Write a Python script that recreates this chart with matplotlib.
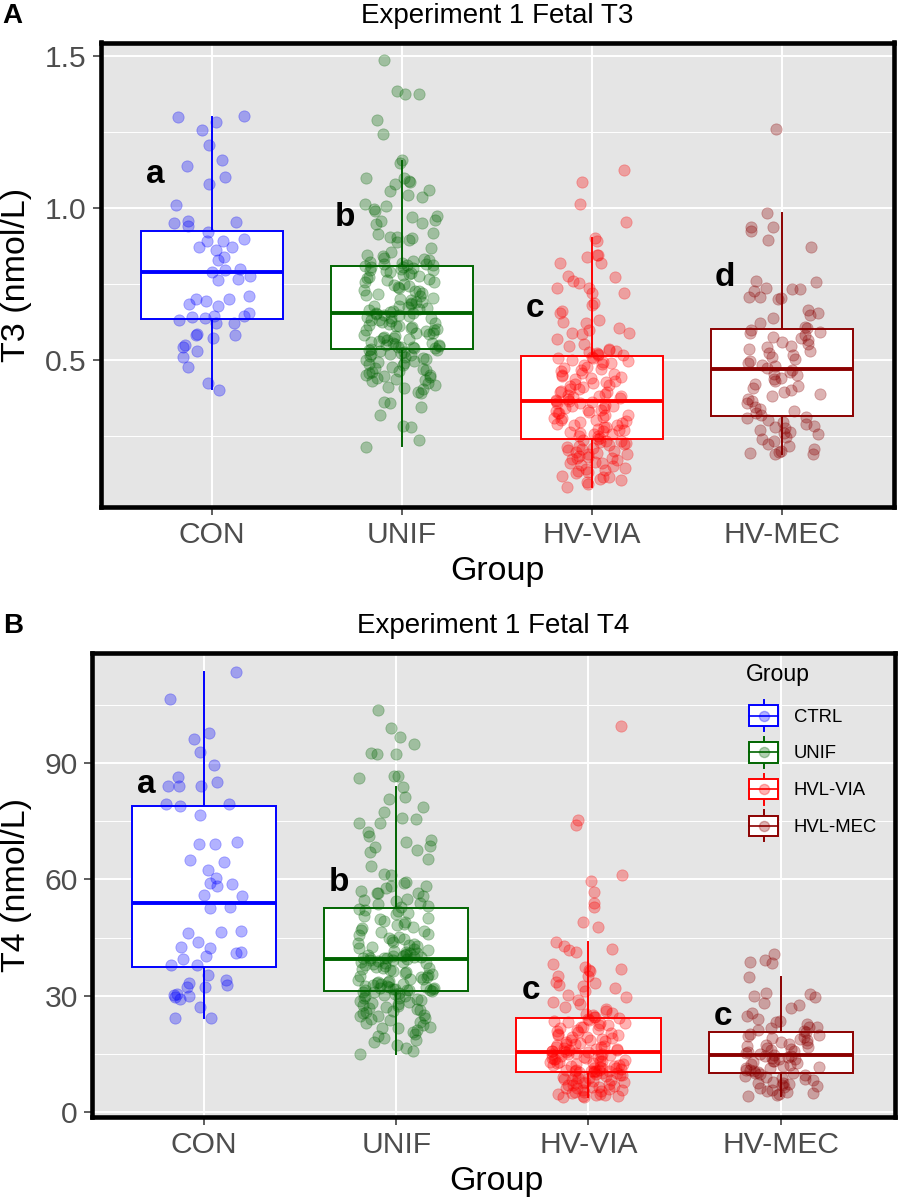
import numpy as np
import matplotlib
matplotlib.use("Agg")
import matplotlib.pyplot as plt
from matplotlib.ticker import FixedLocator
from matplotlib.legend_handler import HandlerBase
from matplotlib.patches import Rectangle, Patch
from matplotlib.lines import Line2D

plt.rcParams['font.family'] = ['Liberation Sans', 'DejaVu Sans']

groups = ['CON', 'UNIF', 'HV-VIA', 'HV-MEC']
legend_labels = ['CTRL', 'UNIF', 'HVL-VIA', 'HVL-MEC']
colors = ['#0000FF', '#006400', '#FF0000', '#8B0000']

# ---- Experiment 1 fetal T3 (nmol/L) ----
t3_con = [1.303, 1.30, 1.283, 1.257, 1.207, 1.158, 1.138, 1.102, 1.079, 1.01, 0.957, 0.954,
          0.951, 0.94, 0.92, 0.898, 0.89, 0.89, 0.872, 0.872, 0.86, 0.84, 0.83, 0.80, 0.796,
          0.79, 0.776, 0.767, 0.763, 0.711, 0.70, 0.70, 0.694, 0.684, 0.678, 0.655, 0.645,
          0.645, 0.641, 0.638, 0.632, 0.62, 0.62, 0.585, 0.582, 0.582, 0.572, 0.55, 0.543,
          0.53, 0.51, 0.477, 0.424, 0.40]
t3_unif = [1.485, 1.385, 1.375, 1.375, 1.29, 1.243, 1.158, 1.148, 1.10, 1.10, 1.09, 1.086,
           1.08, 1.06, 1.056, 1.043, 1.036, 1.013, 1.007, 0.997, 0.99, 0.974, 0.97, 0.96,
           0.957, 0.95, 0.947, 0.918, 0.915, 0.905, 0.905, 0.90, 0.895, 0.888, 0.868, 0.855,
           0.845, 0.842, 0.835, 0.831, 0.828, 0.824, 0.822, 0.819, 0.817, 0.815, 0.813, 0.811,
           0.809, 0.807, 0.806, 0.802, 0.80, 0.797, 0.795, 0.794, 0.789, 0.785, 0.784, 0.78,
           0.776, 0.772, 0.771, 0.765, 0.762, 0.758, 0.757, 0.751, 0.748, 0.744, 0.739, 0.737,
           0.731, 0.727, 0.726, 0.72, 0.716, 0.712, 0.709, 0.703, 0.701, 0.698, 0.692, 0.69,
           0.686, 0.683, 0.679, 0.676, 0.673, 0.671, 0.667, 0.664, 0.662, 0.659, 0.656,
           0.654, 0.651, 0.649, 0.648, 0.644, 0.642, 0.639, 0.637, 0.633, 0.63, 0.628, 0.626,
           0.621, 0.619, 0.616, 0.613, 0.611, 0.608, 0.604, 0.602, 0.599, 0.597, 0.594, 0.59,
           0.588, 0.586, 0.581, 0.579, 0.576, 0.573, 0.571, 0.568, 0.566, 0.563, 0.559, 0.557,
           0.555, 0.552, 0.55, 0.548, 0.546, 0.544, 0.542, 0.541, 0.539, 0.538, 0.537,
           0.534, 0.532, 0.529, 0.527, 0.524, 0.521, 0.519, 0.516, 0.512, 0.509, 0.505, 0.502,
           0.499, 0.496, 0.492, 0.489, 0.486, 0.482, 0.478, 0.475, 0.471, 0.468, 0.464, 0.46,
           0.456, 0.452, 0.45, 0.446, 0.444, 0.44, 0.437, 0.434, 0.43, 0.424, 0.418, 0.412,
           0.408, 0.405, 0.395, 0.39, 0.362, 0.358, 0.345, 0.32, 0.283, 0.28, 0.237, 0.214]
t3_via = [1.125, 1.086, 1.013, 0.954, 0.90, 0.89, 0.845, 0.845, 0.84, 0.82, 0.819, 0.776,
          0.773, 0.76, 0.753, 0.737, 0.737, 0.72, 0.72, 0.688, 0.68, 0.66, 0.655, 0.63, 0.625,
          0.62, 0.605, 0.60, 0.59, 0.59, 0.585, 0.57, 0.553, 0.545, 0.536, 0.533, 0.53, 0.526,
          0.522, 0.519, 0.517, 0.515,
          0.511, 0.508, 0.505, 0.501, 0.497, 0.494, 0.49, 0.487, 0.482, 0.478, 0.474, 0.47,
          0.466, 0.463, 0.458, 0.455, 0.451, 0.447, 0.443, 0.44, 0.436, 0.432, 0.428, 0.424,
          0.421, 0.417, 0.414, 0.41, 0.406, 0.403, 0.399, 0.396, 0.393, 0.389, 0.386, 0.383,
          0.38, 0.377, 0.374, 0.371, 0.369, 0.366,
          0.364, 0.363, 0.358, 0.357, 0.352, 0.35, 0.348, 0.343, 0.342, 0.337, 0.334, 0.333,
          0.328, 0.325, 0.324, 0.319, 0.318, 0.313, 0.31, 0.309, 0.304, 0.301, 0.30, 0.295,
          0.294, 0.289, 0.286, 0.285, 0.28, 0.279, 0.274, 0.271, 0.27, 0.265, 0.264, 0.259,
          0.256, 0.255, 0.25, 0.249, 0.244, 0.241,
          0.238, 0.235, 0.233, 0.229, 0.226, 0.224, 0.219, 0.216, 0.213, 0.21, 0.206, 0.203,
          0.20, 0.197, 0.194, 0.19, 0.19, 0.185, 0.182, 0.178, 0.178, 0.175, 0.17, 0.165,
          0.162, 0.16, 0.155, 0.15, 0.145, 0.14, 0.138, 0.135, 0.13, 0.128, 0.12, 0.115,
          0.115, 0.11, 0.105, 0.10, 0.092, 0.082]
t3_mec = [1.26, 0.983, 0.937, 0.937, 0.925, 0.895, 0.872, 0.76, 0.757, 0.737, 0.734, 0.734,
          0.727, 0.707, 0.707, 0.704, 0.70, 0.664, 0.655, 0.648, 0.638, 0.62, 0.61, 0.605,
          0.598, 0.592, 0.588, 0.583, 0.575, 0.571, 0.566, 0.558, 0.553, 0.547, 0.541, 0.536,
          0.529, 0.522, 0.517, 0.51, 0.503, 0.498, 0.491, 0.485, 0.479, 0.474,
          0.467, 0.46, 0.455, 0.449, 0.441, 0.436, 0.43, 0.421, 0.415, 0.409, 0.40, 0.393,
          0.388, 0.38, 0.372, 0.365, 0.358, 0.345, 0.339, 0.331, 0.325, 0.319,
          0.313, 0.308, 0.302, 0.295, 0.288, 0.283, 0.28, 0.275, 0.268, 0.262, 0.26, 0.255,
          0.247, 0.24, 0.232, 0.225, 0.218, 0.207, 0.20, 0.197, 0.194, 0.19, 0.19]
# box statistics (whisker low, q1, median, q3, whisker high)
t3_lo = [0.405, 0.217, 0.082, 0.19]
t3_q1 = [0.635, 0.536, 0.24, 0.316]
t3_med = [0.79, 0.655, 0.365, 0.47]
t3_q3 = [0.924, 0.81, 0.513, 0.602]
t3_hi = [1.30, 1.155, 0.90, 0.983]
t3_letters = ['a', 'b', 'c', 'd']
t3_letter_y = [1.11, 0.97, 0.67, 0.77]

# ---- Experiment 1 fetal T4 (nmol/L) ----
t4_con = [113.7, 106.6, 97.8, 96.4, 93.0, 89.6, 86.4, 85.1, 84.2, 84.2, 84.1, 79.5, 79.5,
          79.1, 76.7, 69.8, 69.2, 69.2, 64.9, 64.6, 62.5, 60.3, 59.0, 58.9, 58.4, 56.0, 55.6,
          52.8, 52.6, 46.8, 46.3, 46.1, 43.8, 42.6, 42.4, 41.2, 41.1, 40.3, 39.4, 37.9, 37.9,
          35.3, 33.9, 33.3, 32.7, 32.1, 32.1, 30.3, 30.2, 30.0, 29.6, 29.1, 27.1, 24.3, 24.1]
t4_unif = [103.8, 99.0, 96.8, 95.0, 92.6, 92.5, 92.5, 86.7, 86.7, 86.1, 83.8, 81.2, 80.7,
           78.6, 77.3, 75.9, 75.7, 74.7, 74.7, 72.2, 71.1, 70.2, 69.7, 68.7, 68.3, 67.5, 67.0,
           65.3, 63.5, 61.4, 61.2, 59.4, 59.0, 58.3, 58.3, 57.7, 57.0, 56.4, 56.4, 56.4, 55.7,
           55.0, 54.7, 54.5, 54.0, 53.6, 53.2, 53.0,
           52.4, 52.0, 51.8, 51.3, 51.0, 50.6, 50.1, 49.8, 49.3, 49.0, 48.6, 48.2, 47.8, 47.5,
           47.0, 46.8, 46.3, 46.0, 45.7, 45.2, 44.9, 44.6, 44.3, 43.9, 43.6, 43.4, 43.0, 42.8,
           42.5, 42.2, 42.0, 41.8, 41.5, 41.3, 41.1, 40.9, 40.8, 40.6, 40.4, 40.3, 40.2, 40.0,
           39.9, 39.8, 39.7, 39.6, 39.6,
           39.4, 39.3, 39.1, 39.0, 38.8, 38.6, 38.5, 38.3, 38.1, 37.9, 37.7, 37.5, 37.2, 37.0,
           36.8, 36.5, 36.3, 36.1, 35.8, 35.6, 35.4, 35.1, 34.9, 34.7, 34.4, 34.2, 34.0, 33.8,
           33.6, 33.4, 33.2, 33.0, 32.9, 32.7, 32.6, 32.4, 32.3, 32.2, 32.0, 31.9, 31.8, 31.7,
           31.6, 31.5, 31.5, 31.4, 31.4,
           31.2, 31.0, 30.8, 30.6, 30.4, 30.2, 30.0, 29.8, 29.5, 29.3, 29.0, 28.8, 28.5, 28.3,
           28.0, 27.8, 27.6, 27.3, 27.0, 26.7, 26.5, 26.3, 26.0, 25.7, 25.4, 25.1, 24.7, 24.7,
           24.3, 24.0, 23.7, 23.3, 22.8, 22.4, 22.0, 21.5, 21.5, 21.0, 20.5, 20.0, 19.5, 19.0,
           18.5, 17.9, 17.2, 16.5, 15.6, 14.8]
t4_via = [99.7, 75.3, 74.0, 61.2, 59.7, 56.8, 53.8, 52.8, 49.1, 47.6, 43.8, 42.9, 42.0, 41.8,
          41.3, 38.2, 37.3, 36.8, 36.6, 36.4, 35.1, 35.1, 33.6, 33.3, 32.7, 32.6, 31.9, 31.3,
          30.1, 29.6, 28.9, 28.3, 27.8, 27.1, 26.6, 26.1, 25.6, 25.2, 24.9, 24.5, 24.4, 24.2,
          23.9, 23.7, 23.5, 23.2, 23.0, 22.8, 22.5, 22.3, 22.0, 21.8, 21.6, 21.3, 21.1, 20.8,
          20.6, 20.4, 20.1, 19.9, 19.7, 19.4, 19.2, 19.0, 18.8, 18.6, 18.4, 18.2, 18.0, 17.8,
          17.6, 17.4, 17.2, 17.0, 16.8, 16.7, 16.5, 16.3, 16.2, 16.0, 15.9, 15.8, 15.7, 15.6,
          15.4, 15.3, 15.2, 15.0, 14.9, 14.8, 14.6, 14.5, 14.3, 14.2, 14.1, 13.9, 13.8, 13.6,
          13.5, 13.4, 13.2, 13.1, 12.9, 12.8, 12.7, 12.5, 12.4, 12.2, 12.1, 12.0, 11.8, 11.7,
          11.6, 11.4, 11.3, 11.2, 11.0, 10.9, 10.8, 10.7, 10.6, 10.5, 10.5, 10.4, 10.4, 10.3,
          10.2, 10.0, 9.9, 9.7, 9.6, 9.4, 9.3, 9.1, 9.0, 8.8, 8.7, 8.5, 8.3, 8.2, 8.0, 7.8,
          7.7, 7.5, 7.3, 7.2, 7.0, 6.8, 6.7, 6.5, 6.3, 6.2, 6.0, 5.8, 5.7, 5.5, 5.3, 5.2, 5.0,
          4.8, 4.7, 4.5, 4.4, 4.2, 4.1, 4.0, 3.9, 3.7]
t4_mec = [40.7, 39.2, 38.8, 38.5, 34.9, 30.6, 30.3, 30.0, 29.7, 28.0, 27.6, 26.7, 25.5, 24.6,
          23.9, 23.5, 23.2, 22.6, 22.0, 21.8, 21.5, 21.1, 20.9,
          20.5, 20.2, 19.9, 19.6, 19.3, 19.0, 18.7, 18.4, 18.1, 17.8, 17.6, 17.3, 17.0, 16.7,
          16.5, 16.2, 15.9, 15.6, 15.4, 15.1, 14.9, 14.7,
          14.5, 14.3, 14.1, 13.9, 13.7, 13.5, 13.2, 13.0, 12.8, 12.5, 12.3, 12.1, 11.9, 11.6,
          11.4, 11.2, 10.9, 10.7, 10.5, 10.3, 10.1, 10.0,
          9.8, 9.5, 9.2, 9.0, 8.7, 8.4, 8.1, 7.8, 7.5, 7.5, 7.2, 6.9, 6.6, 6.3, 6.0, 5.7, 5.4,
          5.1, 4.8, 4.5, 4.3, 4.1]
t4_lo = [24.1, 14.8, 3.7, 4.1]
t4_q1 = [37.3, 31.3, 10.3, 9.9]
t4_med = [54.0, 39.5, 15.5, 14.6]
t4_q3 = [79.1, 52.7, 24.1, 20.7]
t4_hi = [113.7, 83.8, 43.8, 34.9]
t4_letters = ['a', 'b', 'c', 'c']
t4_letter_y = [84.4, 59.3, 31.4, 24.7]

W, H = 898, 1201


def fx(px):
    return px / W


def fy(py):
    return 1 - py / H


def jitter(n, k):
    # deterministic hash-style horizontal spread, +/- 0.2 like geom_jitter(width = 0.2)
    i = np.arange(n) + 1.0
    u = np.mod(np.abs(np.sin(i * 12.9898 + k * 78.233)) * 43758.5453, 1.0)
    return (2 * u - 1) * 0.2


def panel(ax, series, lo, q1, med, q3, hi, letters, letter_y, yticks, yminor, ylim, xlim):
    ax.set_facecolor('#E5E5E5')
    ax.set_axisbelow(True)
    stats = []
    for i in range(4):
        stats.append(dict(whislo=lo[i], q1=q1[i], med=med[i], q3=q3[i], whishi=hi[i], fliers=[]))
    bp = ax.bxp(stats, positions=[1, 2, 3, 4], widths=0.75, showcaps=False, showfliers=False,
                patch_artist=True, manage_ticks=False)
    for i, c in enumerate(colors):
        bp['boxes'][i].set(facecolor='white', edgecolor=c, linewidth=1.4, zorder=2)
        bp['medians'][i].set(color=c, linewidth=2.8, zorder=2.1)
        for w in bp['whiskers'][2 * i:2 * i + 2]:
            w.set(color=c, linewidth=1.4, zorder=1.9)
    for i, (vals, c) in enumerate(zip(series, colors)):
        vals = np.asarray(vals)
        xs = (i + 1) + jitter(len(vals), i)
        ax.scatter(xs, vals, s=66, color=c, alpha=0.3, linewidths=0.6, edgecolors=c, zorder=3)
    for i, (lab, ly) in enumerate(zip(letters, letter_y)):
        ax.text(i + 0.7, ly, lab, fontsize=24, fontweight='bold', ha='center', va='center', zorder=4)

    ax.set_xlim(*xlim)
    ax.set_ylim(*ylim)
    ax.set_xticks([1, 2, 3, 4])
    ax.set_xticklabels(groups)
    ax.set_yticks(yticks)
    ax.yaxis.set_minor_locator(FixedLocator(yminor))
    ax.grid(which='major', color='white', linewidth=1.4)
    ax.grid(which='minor', axis='y', color='white', linewidth=0.7)
    ax.tick_params(which='major', length=5.5, width=1.1, color='#333333', labelsize=21.6,
                   labelcolor='#4D4D4D', pad=4.5)
    ax.tick_params(which='minor', length=0)
    for s in ax.spines.values():
        s.set_linewidth(3.3)
        s.set_color('black')


fig = plt.figure(figsize=(W / 100, H / 100), dpi=100)

axA = fig.add_axes([fx(100.5), fy(506.7), fx(894 - 100.5), (506.7 - 42.5) / H])
panel(axA, [t3_con, t3_unif, t3_via, t3_mec], t3_lo, t3_q1, t3_med, t3_q3, t3_hi,
      t3_letters, t3_letter_y, [0.5, 1.0, 1.5], [0.25, 0.75, 1.25], (0.0174, 1.544), (0.413, 4.589))
axA.set_yticklabels(['0.5', '1.0', '1.5'])

axB = fig.add_axes([fx(91.8), fy(1117), fx(895 - 91.8), (1117 - 653) / H])
panel(axB, [t4_con, t4_unif, t4_via, t4_mec], t4_lo, t4_q1, t4_med, t4_q3, t4_hi,
      t4_letters, t4_letter_y, [0, 30, 60, 90], [15, 45, 75, 105], (-1.37, 118.5), (0.416, 4.595))


class BoxKey(HandlerBase):
    # ggplot-like boxplot key; sizes in points, centred in the handle area
    def create_artists(self, legend, orig_handle, xdescent, ydescent, width, height, fontsize, trans):
        c = orig_handle.get_edgecolor()
        xm = -xdescent + width / 2
        ym = -ydescent + height / 2
        bw, bh, wh = 10.4, 7.4, 11.2
        arts = [
            Line2D([xm, xm], [ym - wh, ym - bh], color=c, lw=1.4),
            Line2D([xm, xm], [ym + bh, ym + wh], color=c, lw=1.4),
            Rectangle((xm - bw, ym - bh), 2 * bw, 2 * bh, facecolor='white', edgecolor=c, lw=1.4),
            Line2D([xm - bw, xm + bw], [ym, ym], color=c, lw=1.2),
            Line2D([xm], [ym], marker='o', ms=7.3, color=c, alpha=0.3, ls='none'),
        ]
        for a in arts:
            a.set_transform(trans)
        return arts


handles = [Patch(edgecolor=c, facecolor='white', label=l) for c, l in zip(colors, legend_labels)]
leg = axB.legend(handles=handles, handler_map={Patch: BoxKey()}, title='Group',
                 loc='upper left', bbox_to_anchor=(fx(745.5), fy(663)), bbox_transform=fig.transFigure,
                 frameon=False, fontsize=13.3, title_fontsize=16.6, handlelength=1.95,
                 handleheight=1.68, labelspacing=0.65, handletextpad=0.65, borderpad=0,
                 borderaxespad=0, alignment='left')
# a little more room between the legend title and the first key, as in the reference
leg._legend_box.sep = 12.5

# titles, axis titles, panel tags
fig.text(fx(497), fy(23), 'Experiment 1 Fetal T3', ha='center', va='baseline', fontsize=20)
fig.text(fx(493), fy(633), 'Experiment 1 Fetal T4', ha='center', va='baseline', fontsize=20)
fig.text(fx(2), fy(23), 'A', ha='left', va='baseline', fontsize=20, fontweight='bold')
fig.text(fx(3), fy(633), 'B', ha='left', va='baseline', fontsize=20, fontweight='bold')
fig.text(fx(497), fy(580), 'Group', ha='center', va='baseline', fontsize=24.5)
fig.text(fx(496), fy(1190), 'Group', ha='center', va='baseline', fontsize=24.5)
fig.text(fx(17), fy(274.6), 'T3 (nmol/L)', ha='center', va='center', rotation=90, fontsize=24.5)
fig.text(fx(17), fy(885), 'T4 (nmol/L)', ha='center', va='center', rotation=90, fontsize=24.5)

fig.savefig('out.png', dpi=100, facecolor='white')
